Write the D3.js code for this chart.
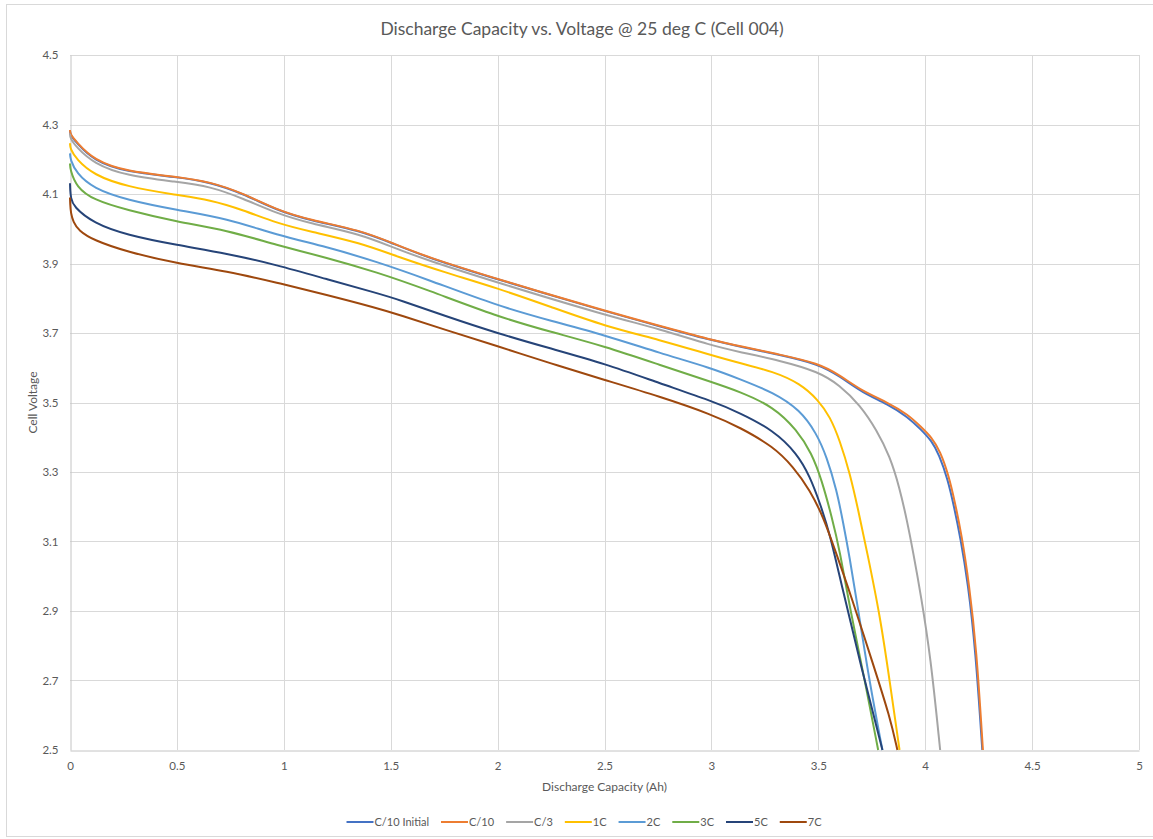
<!DOCTYPE html>
<html>
<head>
<meta charset="utf-8">
<script src="https://cdn.jsdelivr.net/npm/d3@7"></script>
<style>
  body { margin: 0; background: #fff; }
  svg { display: block; font-family: Lato, "Open Sans", sans-serif; }
</style>
</head>
<body>
<svg></svg>
<script>
const TITLE = "Discharge Capacity vs. Voltage @ 25 deg C (Cell 004)",
  X_LABEL = "Discharge Capacity (Ah)",
  Y_LABEL = "Cell Voltage",
  W = 1153,
  H = 839,
  margin = { top: 55, right: 14, bottom: 89, left: 70 },
  width = W - margin.left - margin.right,
  height = H - margin.top - margin.bottom;

const xTicks = [0, 0.5, 1, 1.5, 2, 2.5, 3, 3.5, 4, 4.5, 5];
const yTicks = [2.5, 2.7, 2.9, 3.1, 3.3, 3.5, 3.7, 3.9, 4.1, 4.3, 4.5];

const seriesNames = ["C/10 Initial", "C/10", "C/3", "1C", "2C", "3C", "5C", "7C"];
const seriesColors = ["#4472c4", "#ed7d31", "#a5a5a5", "#ffc000", "#5b9bd5", "#70ad47", "#264478", "#9e480e"];

// [capacity Ah, voltage V]
const c10Initial = [[0,4.283],[0.001,4.27],[0.03,4.248],[0.11,4.196],[0.265,4.163],[0.5,4.149],[0.655,4.134],[0.81,4.101],[0.967,4.053],[1.123,4.024],[1.356,3.995],[1.512,3.957],[1.668,3.918],[2.0,3.854],[2.5,3.763],[2.76,3.719],[3.0,3.679],[3.134,3.661],[3.32,3.637],[3.5,3.611],[3.6,3.576],[3.71,3.527],[3.82,3.497],[3.92,3.458],[3.98,3.422],[4.03,3.39],[4.065,3.35],[4.105,3.28],[4.135,3.2],[4.165,3.11],[4.2,2.98],[4.235,2.79],[4.267,2.5]];
const c10 = [[0,4.284],[0.001,4.272],[0.03,4.25],[0.11,4.198],[0.265,4.164],[0.5,4.15],[0.655,4.135],[0.81,4.102],[0.967,4.054],[1.123,4.025],[1.356,3.996],[1.512,3.958],[1.668,3.919],[2.0,3.855],[2.5,3.764],[2.76,3.72],[3.0,3.68],[3.134,3.662],[3.32,3.638],[3.5,3.613],[3.6,3.579],[3.71,3.531],[3.82,3.502],[3.92,3.465],[3.98,3.43],[4.03,3.4],[4.07,3.36],[4.11,3.29],[4.14,3.21],[4.17,3.12],[4.205,2.98],[4.24,2.79],[4.27,2.5]];
const c3 = [[0,4.273],[0.001,4.26],[0.03,4.235],[0.11,4.188],[0.265,4.152],[0.5,4.135],[0.655,4.122],[0.81,4.087],[0.967,4.044],[1.123,4.015],[1.356,3.985],[1.512,3.946],[1.668,3.91],[2.0,3.845],[2.5,3.752],[2.76,3.711],[3.0,3.664],[3.134,3.645],[3.32,3.621],[3.5,3.589],[3.6,3.55],[3.695,3.493],[3.773,3.421],[3.835,3.345],[3.88,3.255],[3.915,3.16],[3.945,3.065],[3.98,2.945],[4.025,2.77],[4.07,2.5]];
const c1 = [[0,4.246],[0.001,4.23],[0.03,4.2],[0.11,4.155],[0.265,4.121],[0.5,4.097],[0.655,4.083],[0.81,4.054],[0.967,4.016],[1.123,3.992],[1.356,3.96],[1.543,3.917],[1.75,3.875],[2.0,3.829],[2.25,3.775],[2.5,3.72],[2.76,3.68],[3.0,3.636],[3.134,3.613],[3.29,3.589],[3.414,3.555],[3.5,3.507],[3.555,3.459],[3.6,3.392],[3.648,3.296],[3.687,3.19],[3.726,3.076],[3.79,2.883],[3.835,2.693],[3.88,2.5]];
const c2 = [[0,4.217],[0.001,4.2],[0.03,4.16],[0.11,4.116],[0.265,4.083],[0.5,4.054],[0.733,4.03],[0.967,3.982],[1.2,3.948],[1.435,3.905],[1.668,3.855],[2.0,3.778],[2.25,3.735],[2.5,3.694],[2.76,3.642],[3.0,3.599],[3.134,3.567],[3.29,3.529],[3.414,3.479],[3.492,3.411],[3.539,3.344],[3.586,3.248],[3.617,3.152],[3.645,3.06],[3.685,2.91],[3.74,2.693],[3.8,2.5]];
const c3c = [[0,4.188],[0.001,4.17],[0.03,4.12],[0.11,4.083],[0.265,4.054],[0.5,4.02],[0.733,3.996],[0.967,3.953],[1.2,3.917],[1.435,3.875],[1.668,3.825],[2.0,3.747],[2.25,3.703],[2.5,3.662],[2.76,3.608],[3.0,3.559],[3.134,3.531],[3.29,3.488],[3.4,3.421],[3.469,3.354],[3.516,3.277],[3.563,3.171],[3.6,3.076],[3.65,2.9],[3.72,2.693],[3.78,2.5]];
const c5 = [[0,4.131],[0.001,4.11],[0.004,4.09],[0.015,4.064],[0.11,4.016],[0.265,3.982],[0.5,3.953],[0.733,3.929],[0.967,3.896],[1.2,3.855],[1.435,3.815],[1.543,3.795],[1.75,3.75],[2.0,3.699],[2.25,3.655],[2.5,3.612],[2.76,3.555],[3.0,3.505],[3.134,3.47],[3.29,3.42],[3.4,3.354],[3.461,3.287],[3.508,3.21],[3.555,3.12],[3.605,2.985],[3.7,2.74],[3.8,2.5]];
const c7 = [[0,4.09],[0.001,4.07],[0.004,4.045],[0.015,4.02],[0.04,3.995],[0.11,3.967],[0.265,3.934],[0.5,3.9],[0.733,3.878],[0.967,3.845],[1.2,3.81],[1.435,3.772],[1.543,3.752],[1.75,3.71],[2.0,3.662],[2.25,3.612],[2.5,3.565],[2.76,3.517],[3.0,3.466],[3.134,3.428],[3.29,3.373],[3.383,3.315],[3.461,3.248],[3.523,3.171],[3.578,3.076],[3.65,2.95],[3.76,2.74],[3.835,2.595],[3.87,2.5]];

const seriesData = [c10Initial, c10, c3, c1, c2, c3c, c5, c7];

var svg = d3.select("svg").attr("width", W).attr("height", H);

// chart area border
svg.append("rect")
  .attr("x", 6.5).attr("y", 4.5)
  .attr("width", W).attr("height", 832)
  .attr("fill", "#fff")
  .attr("stroke", "#d9d9d9");

var chart = svg.append("g")
  .attr("transform", "translate(" + margin.left + "," + margin.top + ")");

var x = d3.scaleLinear().domain([0, 5]).range([0, width]);
var y = d3.scaleLinear().domain([2.5, 4.5]).range([height, 0]);

//gridlines
chart.append("g")
  .selectAll("line")
  .data(xTicks.slice(1))
  .enter().append("line")
  .attr("x1", d => Math.round(x(d)) + 0.5).attr("x2", d => Math.round(x(d)) + 0.5)
  .attr("y1", 0).attr("y2", height)
  .attr("stroke", "#d9d9d9");

chart.append("g")
  .selectAll("line")
  .data(yTicks.slice(1))
  .enter().append("line")
  .attr("x1", 0).attr("x2", width)
  .attr("y1", d => Math.round(y(d)) + 0.5).attr("y2", d => Math.round(y(d)) + 0.5)
  .attr("stroke", "#d9d9d9");

//axes
var xAxis = d3.axisBottom(x).tickValues(xTicks).tickSize(0).tickPadding(11).tickFormat(d3.format("~g"));
var yAxis = d3.axisLeft(y).tickValues(yTicks).tickSize(0).tickPadding(12).tickFormat(d3.format(".1f"));

var gx = chart.append("g")
  .attr("transform", "translate(0," + (height + 0.5) + ")")
  .call(xAxis);
var gy = chart.append("g")
  .attr("transform", "translate(0.5,0)")
  .call(yAxis);

[gx, gy].forEach(g => {
  g.select(".domain").attr("stroke", "#c4c4c4");
  g.selectAll("text").attr("fill", "#595959").attr("font-size", "11.5px")
    .attr("font-family", "Lato, sans-serif");
});

//curves - smoothed like the spreadsheet's smooth lines
var line = d3.line()
  .x(d => x(d[0]))
  .y(d => y(d[1]))
  .curve(d3.curveBasis);

chart.append("g")
  .selectAll("path")
  .data(seriesData)
  .enter().append("path")
  .attr("d", line)
  .attr("fill", "none")
  .attr("stroke", (d, i) => seriesColors[i])
  .attr("stroke-width", 2)
  .attr("stroke-linejoin", "round");

//title
svg.append("text")
  .attr("x", 582)
  .attr("y", 35)
  .attr("text-anchor", "middle")
  .attr("font-size", "17.5px")
  .attr("fill", "#595959")
  .text(TITLE);

svg.append("text")
  .attr("x", margin.left + width / 2)
  .attr("y", 791)
  .attr("text-anchor", "middle")
  .attr("font-size", "12px")
  .attr("fill", "#595959")
  .text(X_LABEL);

svg.append("text")
  .attr("transform", "translate(37," + (margin.top + height / 2) + ") rotate(-90)")
  .attr("text-anchor", "middle")
  .attr("font-size", "12px")
  .attr("fill", "#595959")
  .text(Y_LABEL);

//legend
var legend = svg.append("g");
let lx = 0;
seriesNames.forEach((name, i) => {
  let item = legend.append("g").attr("transform", "translate(" + lx + ",0)");
  item.append("line")
    .attr("x1", 0).attr("x2", 27)
    .attr("y1", 0).attr("y2", 0)
    .attr("stroke", seriesColors[i])
    .attr("stroke-width", 2);
  let t = item.append("text")
    .attr("x", 28)
    .attr("y", 4)
    .attr("font-size", "11px")
    .attr("fill", "#595959")
    .text(name);
  lx += 28 + t.node().getComputedTextLength() + 12;
});
lx -= 12;
legend.attr("transform", "translate(" + (584 - lx / 2) + ",822)");
</script>
</body>
</html>
